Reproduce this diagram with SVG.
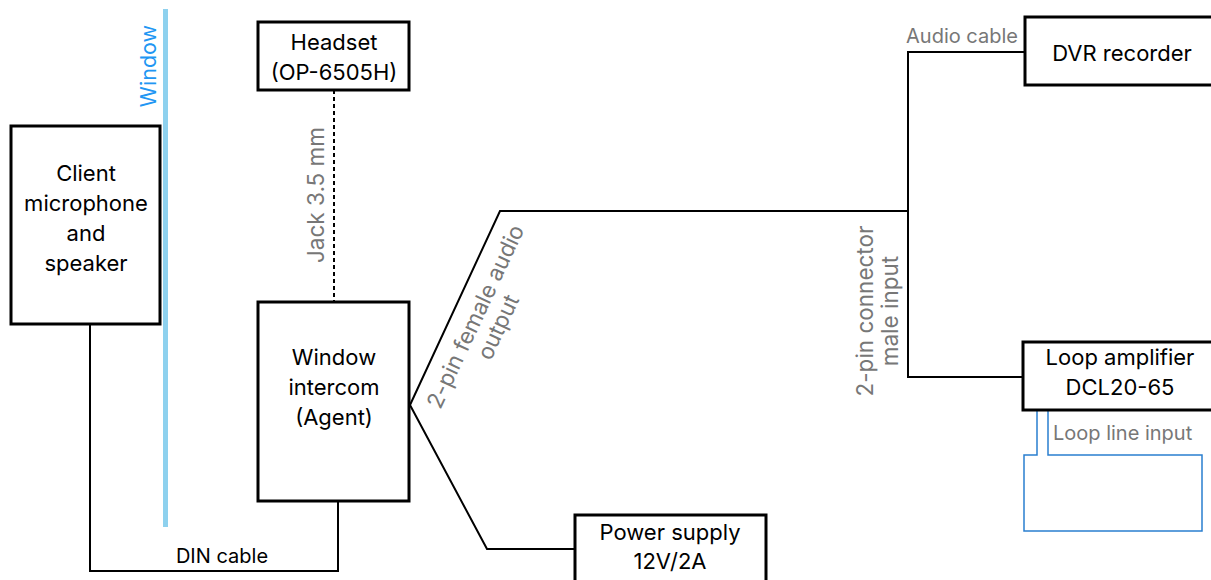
<svg xmlns="http://www.w3.org/2000/svg" width="1211" height="580" viewBox="0 0 1211 580">
<style>
.box{fill:#fff;stroke:#000;stroke-width:3}
.t{font-family:Inter,"Liberation Sans",sans-serif;font-size:22px;fill:#000;text-anchor:middle}
.lbl{font-family:Inter,"Liberation Sans",sans-serif;font-size:20px;fill:#777;text-anchor:middle}
.rl{font-size:22.5px}
.w{fill:none;stroke:#000;stroke-width:2}
</style>
<rect width="1211" height="580" fill="#fff"/>
<g id="window">
<rect x="163" y="9" width="5" height="518" fill="#8ed1ee"/>
<text class="lbl" transform="translate(156,66) rotate(-90)" style="fill:#2196f3;font-size:21.5px">Window</text>
</g>
<g id="connectors">
<path class="w" d="M90,324 V571 H338 V501"/>
<text class="t" x="222" y="563" style="font-size:20px">DIN cable</text>
<path class="w" d="M334,90 V302" stroke-dasharray="4,3"/>
<text class="lbl rl" transform="translate(324,195) rotate(-90)">Jack 3.5 mm</text>
<path class="w" d="M410,405 L500,211 H908"/>
<path class="w" d="M410,405 L487,549 H575"/>
<g transform="translate(487,322) rotate(-65)">
<text class="lbl rl" x="0" y="-5">2-pin female audio</text>
<text class="lbl rl" x="0" y="20">output</text>
</g>
<path class="w" d="M1025,52 H908 V377 H1023"/>
<text class="lbl" x="962" y="43">Audio cable</text>
<g transform="translate(878,311) rotate(-90)">
<text class="lbl rl" x="0" y="-5">2-pin connector</text>
<text class="lbl rl" x="0" y="20">male input</text>
</g>
<path d="M1037,410 V455 H1024 V531 H1202 V455 H1048 V410" fill="none" stroke="#2a7fd0" stroke-width="1.5"/>
<text class="lbl" x="1053" y="440" style="text-anchor:start">Loop line input</text>
</g>
<g id="client">
<rect class="box" x="11" y="126" width="149" height="198"/>
<text class="t" x="86" y="181">Client</text>
<text class="t" x="86" y="211">microphone</text>
<text class="t" x="86" y="241">and</text>
<text class="t" x="86" y="271">speaker</text>
</g>
<g id="headset">
<rect class="box" x="258" y="22" width="151" height="68"/>
<text class="t" x="334" y="50">Headset</text>
<text class="t" x="334" y="80">(OP-6505H)</text>
</g>
<g id="intercom">
<rect class="box" x="258" y="302" width="151" height="199"/>
<text class="t" x="334" y="365">Window</text>
<text class="t" x="334" y="395">intercom</text>
<text class="t" x="334" y="425">(Agent)</text>
</g>
<g id="power">
<rect class="box" x="575" y="515" width="191" height="80"/>
<text class="t" x="670" y="540">Power supply</text>
<text class="t" x="670" y="569">12V/2A</text>
</g>
<g id="dvr">
<rect class="box" x="1025" y="17" width="195" height="68"/>
<text class="t" x="1122" y="61">DVR recorder</text>
</g>
<g id="loopamp">
<rect class="box" x="1023" y="342" width="197" height="68"/>
<text class="t" x="1120" y="365">Loop amplifier</text>
<text class="t" x="1120" y="395">DCL20-65</text>
</g>
</svg>
